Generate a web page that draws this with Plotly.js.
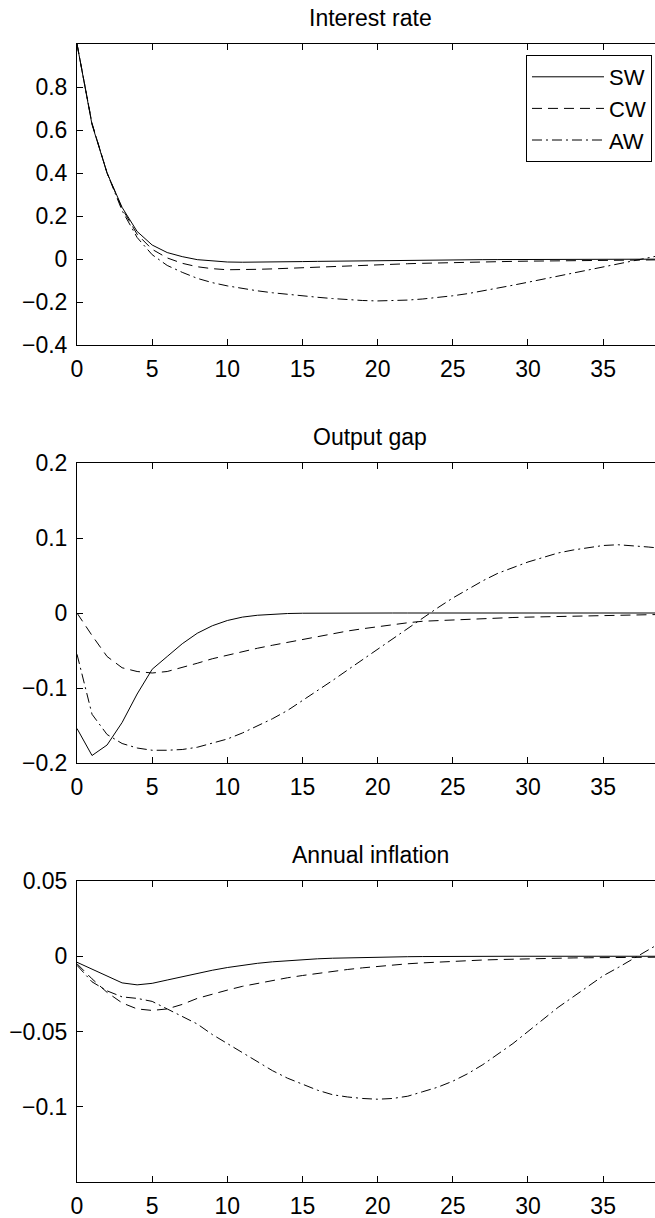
<!DOCTYPE html>
<html>
<head>
<meta charset="utf-8">
<script src="https://cdn.plot.ly/plotly-3.0.1.min.js"></script>
<style>html,body{margin:0;padding:0;background:#fff;overflow:hidden}</style>
</head>
<body>
<div id="chart" style="width:655px;height:1218px"></div>
<script>
// Horizon (quarters)
const periods = Array.from({length: 41}, (_, i) => i);

const seriesNames = ['SW', 'CW', 'AW'];
const panelTitles = ['Interest rate', 'Output gap', 'Annual inflation'];
const xTickVals = [0, 5, 10, 15, 20, 25, 30, 35, 40];

// Interest rate
const rateSW = [1.0, 0.625, 0.40, 0.24, 0.128, 0.065, 0.03, 0.011, -0.003, -0.010, -0.014, -0.015, -0.015, -0.014, -0.013, -0.012, -0.011, -0.010, -0.009, -0.008, -0.007, -0.006, -0.0055, -0.005, -0.0045, -0.004, -0.0035, -0.003, -0.0027, -0.0024, -0.002, -0.0018, -0.0016, -0.0014, -0.0012, -0.001, -0.0009, -0.0008, -0.0007, -0.0006, -0.0005];
const rateCW = [1.0, 0.63, 0.40, 0.235, 0.115, 0.045, 0.005, -0.02, -0.036, -0.045, -0.050, -0.050, -0.048, -0.046, -0.043, -0.040, -0.037, -0.034, -0.031, -0.028, -0.026, -0.024, -0.022, -0.020, -0.018, -0.016, -0.015, -0.013, -0.012, -0.011, -0.010, -0.009, -0.008, -0.007, -0.0065, -0.006, -0.005, -0.0045, -0.004, -0.0035, -0.003];
const rateAW = [1.0, 0.63, 0.40, 0.225, 0.10, 0.02, -0.03, -0.062, -0.09, -0.11, -0.125, -0.137, -0.148, -0.157, -0.165, -0.172, -0.178, -0.184, -0.189, -0.193, -0.195, -0.194, -0.191, -0.186, -0.179, -0.171, -0.161, -0.149, -0.136, -0.122, -0.108, -0.094, -0.080, -0.066, -0.051, -0.036, -0.022, -0.008, 0.006, 0.020, 0.034];

// Output gap
const gapSW = [-0.154, -0.190, -0.176, -0.146, -0.108, -0.075, -0.058, -0.041, -0.027, -0.017, -0.010, -0.0055, -0.003, -0.0015, -0.0007, -0.0003, -0.0001, 0, 0, 0, 0, 0, 0, 0, 0, 0, 0, 0, 0, 0, 0, 0, 0, 0, 0, 0, 0, 0, 0, 0, 0];
const gapCW = [0, -0.030, -0.058, -0.073, -0.078, -0.080, -0.078, -0.073, -0.067, -0.061, -0.056, -0.051, -0.047, -0.043, -0.039, -0.035, -0.031, -0.027, -0.024, -0.021, -0.018, -0.015, -0.013, -0.011, -0.010, -0.009, -0.008, -0.007, -0.0065, -0.006, -0.0055, -0.005, -0.0045, -0.004, -0.0035, -0.003, -0.0027, -0.0024, -0.002, -0.0018, -0.0015];
const gapAW = [-0.055, -0.135, -0.162, -0.174, -0.180, -0.183, -0.183, -0.182, -0.179, -0.174, -0.168, -0.160, -0.151, -0.141, -0.130, -0.117, -0.104, -0.090, -0.076, -0.062, -0.048, -0.034, -0.020, -0.006, 0.007, 0.020, 0.032, 0.043, 0.053, 0.061, 0.068, 0.074, 0.080, 0.084, 0.087, 0.090, 0.091, 0.090, 0.088, 0.086, 0.083];

// Annual inflation
const inflSW = [-0.004, -0.0085, -0.013, -0.0177, -0.019, -0.018, -0.0158, -0.0135, -0.0113, -0.0093, -0.0075, -0.006, -0.0047, -0.0037, -0.0029, -0.0022, -0.0017, -0.0013, -0.001, -0.0007, -0.0005, -0.0004, -0.0003, -0.0002, -0.0001, 0, 0, 0, 0, 0, 0, 0, 0, 0, 0, 0, 0, 0, 0, 0, 0];
const inflCW = [-0.005, -0.015, -0.024, -0.031, -0.035, -0.036, -0.035, -0.032, -0.028, -0.025, -0.0225, -0.020, -0.018, -0.016, -0.0143, -0.0128, -0.0113, -0.010, -0.0088, -0.0077, -0.0067, -0.0058, -0.005, -0.0044, -0.0038, -0.0033, -0.0029, -0.0025, -0.0022, -0.0019, -0.0017, -0.0015, -0.0013, -0.0011, -0.001, -0.0009, -0.0008, -0.0007, -0.0006, -0.0005, -0.0005];
const inflAW = [-0.006, -0.017, -0.023, -0.027, -0.028, -0.030, -0.035, -0.040, -0.045, -0.052, -0.058, -0.064, -0.070, -0.076, -0.081, -0.085, -0.089, -0.092, -0.0935, -0.0945, -0.095, -0.0945, -0.093, -0.090, -0.087, -0.083, -0.078, -0.072, -0.065, -0.058, -0.050, -0.042, -0.034, -0.027, -0.020, -0.013, -0.0075, -0.0015, 0.0045, 0.010, 0.015];

const yTicks1 = [-0.4, -0.2, 0, 0.2, 0.4, 0.6, 0.8];
const yTicks2 = [-0.2, -0.1, 0, 0.1, 0.2];
const yTicks3 = [-0.1, -0.05, 0, 0.05];

const panels = [
  {data: [rateSW, rateCW, rateAW], yrange: [-0.4, 1.0], ticks: yTicks1},
  {data: [gapSW, gapCW, gapAW], yrange: [-0.2, 0.2], ticks: yTicks2},
  {data: [inflSW, inflCW, inflAW], yrange: [-0.15, 0.05], ticks: yTicks3}
];

const dashes = ['solid', '10px,6px', '10px,4px,2px,4px'];
const FONT = 'Liberation Sans, Arial, Helvetica, sans-serif';
const FS = 23;
const H = 1218;
// pixel positions of each panel [top, bottom]
const boxes = [[44, 345], [463, 763], [881, 1182]];

const traces = [];
panels.forEach((p, pi) => {
  p.data.forEach((ys, si) => {
    traces.push({
      x: periods, y: ys, type: 'scatter', mode: 'lines',
      name: seriesNames[si],
      showlegend: pi === 0,
      xaxis: pi === 0 ? 'x' : 'x' + (pi + 1),
      yaxis: pi === 0 ? 'y' : 'y' + (pi + 1),
      line: {color: '#000', width: 1, dash: dashes[si]},
      hoverinfo: 'skip'
    });
  });
});

const layout = {
  width: 655, height: H,
  margin: {l: 77, r: 0, t: 0, b: 0},
  paper_bgcolor: '#fff', plot_bgcolor: '#fff',
  font: {family: FONT, size: FS, color: '#000'},
  showlegend: true,
  legend: {
    x: 0.9948, xanchor: 'right', y: 1 - 55 / H, yanchor: 'top',
    bordercolor: '#000', borderwidth: 1, bgcolor: '#fff',
    font: {family: FONT, size: 22, color: '#000'},
    itemwidth: 72, tracegroupgap: 0
  },
  annotations: []
};

panels.forEach((p, pi) => {
  const sfx = pi === 0 ? '' : String(pi + 1);
  const [top, bot] = boxes[pi];
  layout['xaxis' + sfx] = {
    domain: [0, 1], anchor: 'y' + sfx,
    range: [0, 38.45], tickvals: xTickVals,
    ticks: 'inside', ticklen: 6, tickwidth: 1, tickcolor: '#000',
    showline: true, linecolor: '#000', linewidth: 1, mirror: 'ticks',
    showgrid: false, zeroline: false,
    tickfont: {family: FONT, size: FS, color: '#000'},
    ticklabelstandoff: 3
  };
  layout['yaxis' + sfx] = {
    domain: [1 - bot / H, 1 - top / H], anchor: 'x' + sfx,
    range: p.yrange, tickvals: p.ticks,
    ticks: 'inside', ticklen: 6, tickwidth: 1, tickcolor: '#000',
    showline: true, linecolor: '#000', linewidth: 1, mirror: false,
    showgrid: false, zeroline: false,
    tickfont: {family: FONT, size: FS, color: '#000'},
    ticklabelstandoff: 4
  };
  layout.annotations.push({
    text: panelTitles[pi], xref: 'x' + sfx, yref: 'y' + sfx + ' domain',
    x: 19.5, y: 1, yshift: 26, xanchor: 'center', yanchor: 'middle',
    showarrow: false, font: {family: FONT, size: FS, color: '#000'}
  });
});

Plotly.newPlot('chart', traces, layout, {staticPlot: true, displayModeBar: false});
</script>
</body>
</html>
